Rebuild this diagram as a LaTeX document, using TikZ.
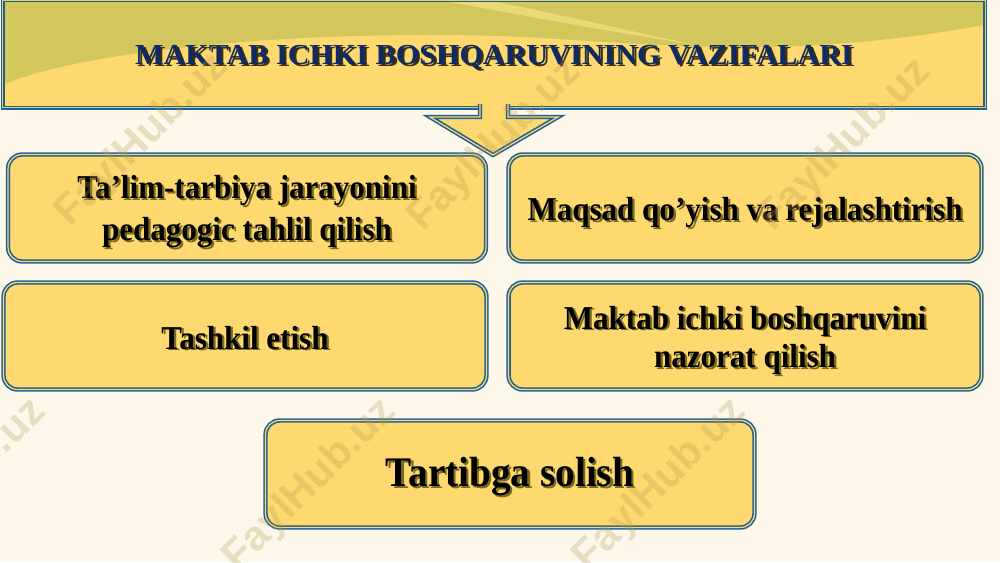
\documentclass[tikz,border=0pt]{standalone}
\usepackage{fontspec}
\setmainfont{Liberation Serif}
\newfontfamily\matnfont[FakeStretch=0.93]{Liberation Serif}
\newfontfamily\sarlavhafont[FakeStretch=1.04]{Liberation Serif}
\newfontfamily\belgifont{Liberation Sans}
\definecolor{fon}{HTML}{FDF8EA}
\definecolor{sariq}{HTML}{FDD96F}
\definecolor{yashil}{HTML}{D2C75C}
\definecolor{ochsariq}{HTML}{EBD878}
\definecolor{kok}{HTML}{1F5F99}
\definecolor{tamga}{HTML}{0F2A66}
\definecolor{soya}{HTML}{7C6A1E}
\definecolor{belgirang}{HTML}{B89A55}
\newcommand{\soyali}[2][soya]{\rlap{\textcolor{#1}{\kern1.3pt\raisebox{-1pt}{#2}}}#2}

\begin{document}
\begin{tikzpicture}[x=0.02cm,y=-0.02cm,
	chegara/.style={draw=kok, line width=0.9pt, double=sariq, double distance=0.7pt},
	vazifa/.style={chegara, fill=sariq, rounded corners=8pt, minimum height=2.14cm},
	matn/.style={align=center, font=\matnfont\bfseries\fontsize{19}{24}\selectfont},
	belgi/.style={rotate=45, text=belgirang, text opacity=0.28,
		font=\belgifont\bfseries\fontsize{24}{24}\selectfont}]
	\useasboundingbox (0,0) rectangle (1000,562);
	\clip (0,0) rectangle (1000,562);
	\fill[fon] (0,0) rectangle (1000,562);
	% sarlavha
	\node[fill=sariq, minimum width=19.64cm, minimum height=2.14cm] (sarlavha) at (494,54) {};
	\begin{scope}
		\clip (sarlavha.north west) rectangle (sarlavha.south east);
		\fill[yashil] (0,86) .. controls (80,50) and (300,30) .. (500,36)
			.. controls (650,42) and (780,64) .. (1000,22) -- (1000,0) -- (0,0) -- cycle;
		\fill[ochsariq] (440,0) .. controls (520,15) and (600,30) .. (690,44)
			.. controls (600,24) and (530,8) .. (485,0) -- cycle;
	\end{scope}
	\draw[chegara, double=yashil!50!sariq] (sarlavha.north west) rectangle (sarlavha.south east);
	\node[text=tamga, font=\sarlavhafont\bfseries\fontsize{16.5}{16.5}\selectfont] (sarlavhamatn) at (494,58)
		{\soyali[black!55!soya]{MAKTAB ICHKI BOSHQARUVINING VAZIFALARI}};
	% strelka
	\fill[sariq] (480,100) -- (480,117) -- (430,117) -- (493,155) -- (558,117) -- (508,117) -- (508,100) -- cycle;
	\draw[chegara, line join=miter]
		(480,104) -- (480,117) -- (430,117) -- (493,155) -- (558,117) -- (508,117) -- (508,104);
	% vazifalar
	\node[vazifa, minimum width=9.56cm] (talim) at (247,208) {};
	\node[vazifa, minimum width=9.46cm] (maqsad) at (745,208) {};
	\node[vazifa, minimum width=9.66cm] (tashkil) at (245,336) {};
	\node[vazifa, minimum width=9.46cm] (nazorat) at (745,336) {};
	\node[vazifa, minimum width=9.78cm] (tartib) at (510,474) {};
	\node[matn] (talimmatn) at ([yshift=-2.5pt]talim.center)
		{\soyali{Ta’lim-tarbiya jarayonini}\\\soyali{pedagogic tahlil qilish}};
	\node[matn] (maqsadmatn) at ([yshift=-3pt]maqsad.center)
		{\soyali{Maqsad qo’yish va rejalashtirish}};
	\node[matn] (tashkilmatn) at ([yshift=-1.5pt]tashkil.center)
		{\soyali{Tashkil etish}};
	\node[matn, font=\matnfont\bfseries\fontsize{19}{22}\selectfont] (nazoratmatn) at ([yshift=-3pt]nazorat.center)
		{\soyali{Maktab ichki boshqaruvini}\\\soyali{nazorat qilish}};
	\node[matn, font=\matnfont\bfseries\fontsize{24}{28}\selectfont] (tartibmatn) at ([yshift=-2pt]tartib.center)
		{\soyali{Tartibga solish}};
	% belgilar
	\foreach \x/\y [count=\i] in {142/140, 495/145, 845/145, -40/485, 310/485, 660/485}
		\node[belgi] (belgi\i) at (\x,\y) {FaylHub.uz};
\end{tikzpicture}
\end{document}
